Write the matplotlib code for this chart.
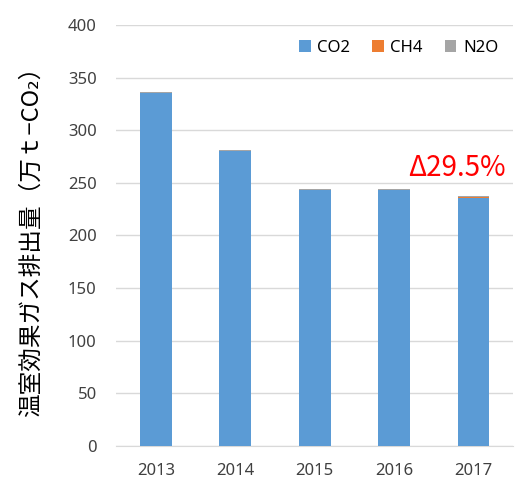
import numpy as np
import matplotlib.pyplot as plt

plt.rcParams['font.family'] = ['Noto Sans', 'Noto Sans CJK JP', 'DejaVu Sans']

years = ["2013", "2014", "2015", "2016", "2017"]
co2 = [335, 280, 243, 243, 236]
ch4 = [0.3, 0.3, 0.3, 0.3, 0.3]
n2o = [1.2, 1.0, 0.8, 0.8, 0.8]

fig = plt.figure(figsize=(5.28, 4.82), dpi=100)
ax = fig.add_axes([0.22, 0.075, 0.752, 0.873])

x = np.arange(len(years))
w = 0.4
ax.bar(x, co2, w, color="#5b9bd5", label="CO2", zorder=3)
ax.bar(x, ch4, w, bottom=co2, color="#ed7d31", label="CH4", zorder=3)
bottom2 = [a + b for a, b in zip(co2, ch4)]
ax.bar(x, n2o, w, bottom=bottom2, color="#a5a5a5", label="N2O", zorder=3)

ax.set_ylim(0, 400)
ax.set_yticks(range(0, 401, 50))
ax.set_xlim(-0.5, len(years) - 0.5)
ax.set_xticks(x)
ax.set_xticklabels(years)
ax.yaxis.grid(True, color="#d9d9d9", linewidth=1, zorder=0)
for s in ["top", "right", "left"]:
    ax.spines[s].set_visible(False)
ax.spines["bottom"].set_color("#d9d9d9")
ax.tick_params(length=0, labelsize=12, colors="#404040")
ax.tick_params(axis="y", pad=14)
ax.tick_params(axis="x", pad=12)

ax.set_ylabel("温室効果ガス排出量（万ｔ−CO₂）", fontsize=17, color="black",
              family=['Noto Sans CJK JP', 'DejaVu Sans'], labelpad=18)

ax.legend(loc="upper right", ncol=3, frameon=False, fontsize=12,
          handlelength=0.7, handleheight=0.7, columnspacing=1.3,
          handletextpad=0.4, bbox_to_anchor=(1.0, 1.0))

ax.text(3.18, 264, "Δ29.5%", color="red", fontsize=20, ha="left", va="center",
        family=['Noto Sans CJK JP', 'DejaVu Sans'])

fig.savefig("out.png", dpi=100)
